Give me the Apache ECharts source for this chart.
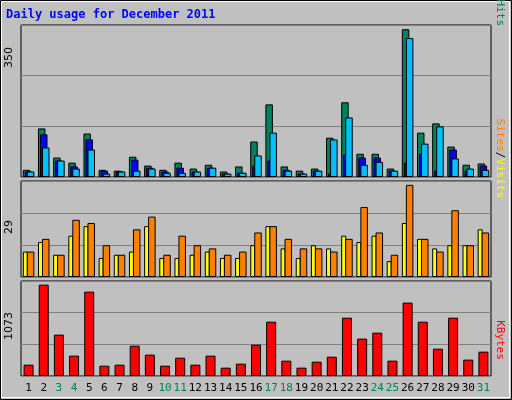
<!DOCTYPE html><html><head><meta charset="utf-8">
<script src="https://cdn.jsdelivr.net/npm/echarts@6/dist/echarts.min.js"></script>
<style>html,body{margin:0;padding:0;background:#fff}#c{width:512px;height:400px}</style></head><body><div id="c"></div>
<script>
const days=['1','2','3','4','5','6','7','8','9','10','11','12','13','14','15','16','17','18','19','20','21','22','23','24','25','26','27','28','29','30','31'];
const weekend=['3','4','10','11','17','18','24','25','31'];
const hits=[17,115,46,34,103,17,15,48,27,17,34,20,29,13,25,84,172,25,15,20,93,177,55,55,20,350,105,127,72,29,32];
const files=[13,101,39,25,89,15,13,41,22,13,22,13,22,8,10,27,39,17,8,15,8,53,46,46,15,34,55,15,65,15,27];
const pages=[13,70,39,20,65,8,13,15,20,10,10,13,22,8,10,51,105,15,8,15,89,141,29,36,15,329,79,120,44,20,17];
const sites=[8,11,7,13,16,6,7,8,16,6,6,7,8,6,6,10,16,9,6,10,9,13,11,13,5,17,12,9,10,10,15];
const visits=[8,12,7,18,17,10,7,15,19,7,13,10,9,7,8,14,16,12,9,9,8,12,22,14,7,29,12,8,21,10,14];
const kbytes=[133,1073,486,239,991,121,133,356,251,121,215,133,239,98,145,368,638,180,98,168,227,685,439,509,180,862,638,321,685,192,286];
const ch=echarts.init(document.getElementById('c'),null,{renderer:'canvas'});
const grids=[{left:21,width:470,top:25,height:152},{left:21,width:470,top:181,height:96},{left:21,width:470,top:281,height:95}];
const maxes=[360,30.2,1116];
const bs={borderColor:'#000',borderWidth:1};
function xa(i){return {type:'category',gridIndex:i,data:days,axisLine:{show:false},axisTick:{show:false},
 axisLabel:{show:i===2,interval:0,margin:7,fontFamily:'DejaVu Sans Mono',fontSize:11,
 color:(v)=>weekend.includes(v)?'#00805c':'#000'}};}
function ya(i){return {type:'value',gridIndex:i,min:0,max:maxes[i],interval:maxes[i]/3,axisLabel:{show:false},
 axisLine:{show:false},axisTick:{show:false},splitLine:{lineStyle:{color:'#808080',width:1}}};}
const mono='DejaVu Sans Mono';
ch.setOption({
 backgroundColor:'#c0c0c0',animation:false,
 grid:grids.map(g=>Object.assign({show:true,borderColor:'#000',borderWidth:1,backgroundColor:'#c0c0c0'},g)),
 xAxis:[xa(0),xa(1),xa(2)],yAxis:[ya(0),ya(1),ya(2)],
 series:[
  {type:'bar',name:'Hits',xAxisIndex:0,yAxisIndex:0,data:hits,barWidth:7.5,barGap:'-73%',itemStyle:Object.assign({color:'#00805c'},bs)},
  {type:'bar',name:'Files',xAxisIndex:0,yAxisIndex:0,data:files,barWidth:7.5,barGap:'-73%',itemStyle:Object.assign({color:'#0000ff'},bs)},
  {type:'bar',name:'Pages',xAxisIndex:0,yAxisIndex:0,data:pages,barWidth:7.5,barGap:'-73%',itemStyle:Object.assign({color:'#00c0ff'},bs)},
  {type:'bar',name:'Sites',xAxisIndex:1,yAxisIndex:1,data:sites,barWidth:5,barGap:'-20%',itemStyle:Object.assign({color:'#ffff00'},bs)},
  {type:'bar',name:'Visits',xAxisIndex:1,yAxisIndex:1,data:visits,barWidth:7.5,barGap:'-20%',itemStyle:Object.assign({color:'#ff8000'},bs)},
  {type:'bar',name:'KBytes',xAxisIndex:2,yAxisIndex:2,data:kbytes,barWidth:10,itemStyle:Object.assign({color:'#ff0000'},bs)}
 ],
 graphic:[
  {type:'rect',shape:{x:0.5,y:0.5,width:511,height:399},style:{fill:null,stroke:'#000',lineWidth:1}},
  {type:'rect',shape:{x:1.5,y:1.5,width:508,height:396},style:{fill:null,stroke:'#fff',lineWidth:1}},
  {type:'text',x:6,y:9,style:{text:'Daily usage for December 2011',fill:'#0000ff',font:'bold 12px "DejaVu Sans Mono"'}},
  {type:'text',x:9,y:47,rotation:Math.PI/2,style:{text:'350',fill:'#000',font:'11px "DejaVu Sans"',align:'right',verticalAlign:'middle'}},
  {type:'text',x:9,y:220,rotation:Math.PI/2,style:{text:'29',fill:'#000',font:'11px "DejaVu Sans"',align:'right',verticalAlign:'middle'}},
  {type:'text',x:9,y:312,rotation:Math.PI/2,style:{text:'1073',fill:'#000',font:'11px "DejaVu Sans"',align:'right',verticalAlign:'middle'}},
  {type:'text',x:500,y:26,rotation:-Math.PI/2,style:{text:'{p|Pages}{s|/}{f|Files}{s|/}{h|Hits}',align:'right',verticalAlign:'middle',font:'11px "DejaVu Sans Mono"',
    rich:{p:{fill:'#00c0ff',font:'11px "DejaVu Sans Mono"'},f:{fill:'#0000ff',font:'11px "DejaVu Sans Mono"'},h:{fill:'#00805c',font:'11px "DejaVu Sans Mono"'},s:{fill:'#000',font:'11px "DejaVu Sans Mono"'}}}},
  {type:'text',x:500,y:198,rotation:-Math.PI/2,style:{text:'{a|Sites}{s|/}{b|Visits}',align:'right',verticalAlign:'middle',font:'11px "DejaVu Sans Mono"',
    rich:{a:{fill:'#ff8000',font:'11px "DejaVu Sans Mono"'},b:{fill:'#ffff00',font:'11px "DejaVu Sans Mono"'},s:{fill:'#000',font:'11px "DejaVu Sans Mono"'}}}},
  {type:'text',x:500,y:340,rotation:-Math.PI/2,style:{text:'KBytes',fill:'#ff0000',align:'center',verticalAlign:'middle',font:'11px "DejaVu Sans Mono"'}}
 ]
});
</script></body></html>
